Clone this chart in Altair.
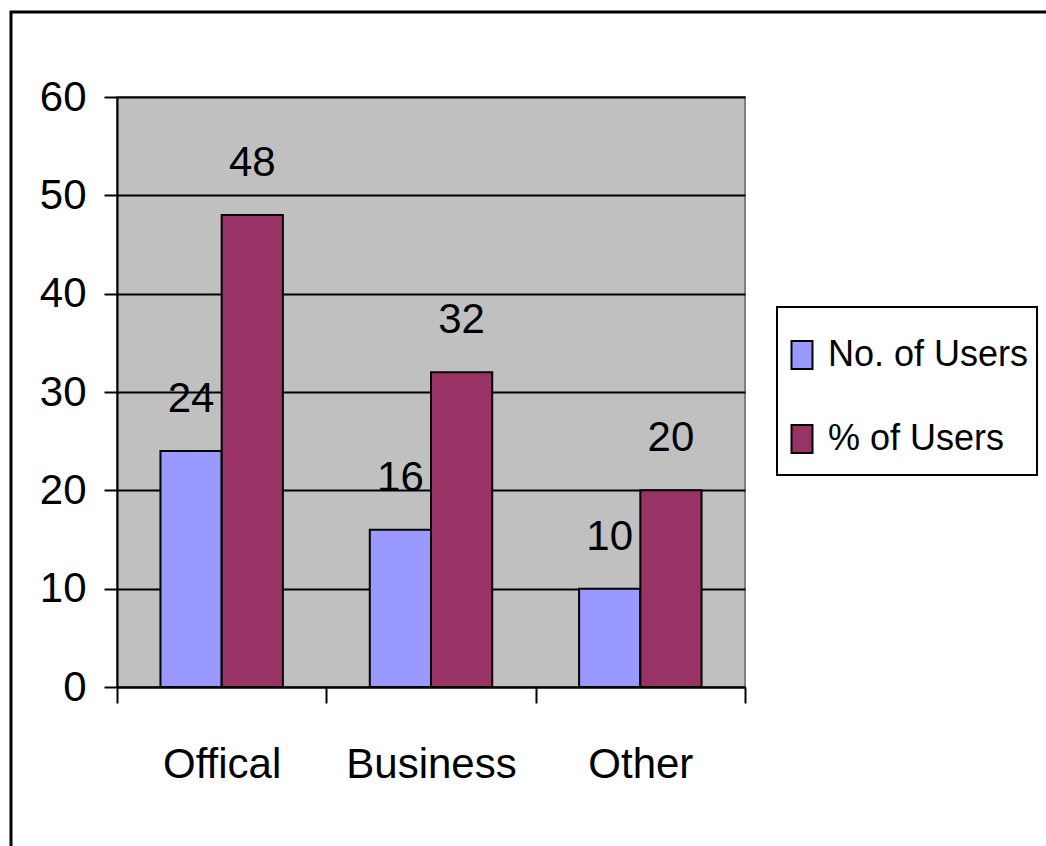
import altair as alt
import pandas as pd

categories = ["Offical", "Business", "Other"]
no_users = [24, 16, 10]
pct_users = [48, 32, 20]
series = ["No. of Users", "% of Users"]
colors = ["#9999FF", "#993366"]

rows = []
for c, a, b in zip(categories, no_users, pct_users):
    rows.append({"cat": c, "series": series[0], "value": a})
    rows.append({"cat": c, "series": series[1], "value": b})
df = pd.DataFrame(rows)

FONT = "Liberation Sans Narrow, Arial Narrow, Liberation Sans, Arial, sans-serif"
FS = 42

x = alt.X("cat:N", sort=categories, title=None,
          scale=alt.Scale(paddingInner=0, paddingOuter=0),
          axis=alt.Axis(labelAngle=0, tickBand="extent", tickSize=16, tickWidth=2,
                        domainWidth=2, labelPadding=41, labelFontSize=FS,
                        labelFont=FONT, grid=False))
xo = alt.XOffset("series:N", sort=series,
                 scale=alt.Scale(paddingInner=0, paddingOuter=0.71))
y = alt.Y("value:Q", title=None,
          scale=alt.Scale(domain=[0, 60], nice=False),
          axis=alt.Axis(values=[0, 10, 20, 30, 40, 50, 60], tickSize=13, tickWidth=2,
                        domainWidth=2, labelPadding=18, labelFontSize=FS, labelFont=FONT,
                        grid=True, gridColor="black", gridWidth=2))
color = alt.Color("series:N", sort=series,
                  scale=alt.Scale(domain=series, range=colors),
                  legend=alt.Legend(title=None, orient="none", legendX=657, legendY=230,
                                    symbolType="M-0.75,-1L0.75,-1L0.75,1L-0.75,1Z",
                                    symbolSize=784, symbolStrokeColor="black",
                                    symbolStrokeWidth=2, symbolOpacity=1,
                                    labelFont=FONT, labelFontSize=36, labelColor="black",
                                    labelLimit=400, labelOffset=8, rowPadding=48,
                                    padding=10, labelOverlap=False))

frame = alt.Chart(pd.DataFrame({"a": [0]})).mark_rect(
    fill=None, stroke="black", strokeWidth=3).encode(
    x=alt.value(-106), x2=alt.value(1100), y=alt.value(-85), y2=alt.value(900))
legend_box = alt.Chart(pd.DataFrame({"a": [0]})).mark_rect(
    fill="white", stroke="black", strokeWidth=2).encode(
    x=alt.value(660), x2=alt.value(920), y=alt.value(210), y2=alt.value(378))
bars = alt.Chart(df).mark_bar(stroke="black", strokeWidth=2, opacity=1).encode(
    x=x, xOffset=xo, y=y, color=color)
labels = alt.Chart(df).mark_text(dy=-52, baseline="middle", font=FONT,
                                 fontSize=FS, color="black").encode(
    x=alt.X("cat:N", sort=categories), xOffset=alt.XOffset("series:N", sort=series),
    y="value:Q", text="value:Q")

chart = alt.layer(frame, legend_box, bars, labels).properties(
    width=628, height=590,
    autosize=alt.AutoSizeParams(type="none"),
    padding={"left": 117, "top": 97, "right": 301, "bottom": 159},
    background="white",
).configure_view(fill="#C0C0C0", stroke="#808080", strokeWidth=2
).configure_axis(domainColor="black", tickColor="black", labelColor="black")

chart.save("out.html", embed_options={"renderer": "svg", "actions": False})
